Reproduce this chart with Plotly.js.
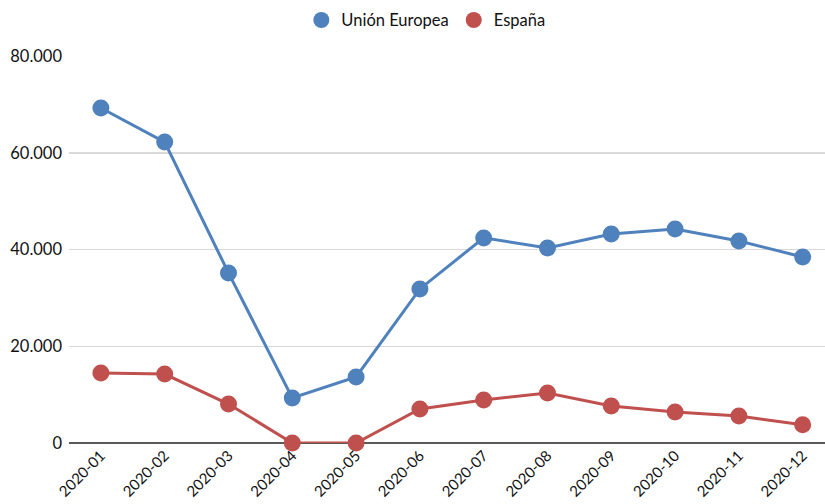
<!DOCTYPE html>
<html><head><meta charset="utf-8">
<script src="https://cdn.plot.ly/plotly-3.0.1.min.js"></script>
<style>html,body{margin:0;padding:0;background:#fff}#c{width:825px;height:504px}</style>
</head><body><div id="c"></div>
<script>
const months = ["2020-01","2020-02","2020-03","2020-04","2020-05","2020-06","2020-07","2020-08","2020-09","2020-10","2020-11","2020-12"];
const ueName = "Unión Europea";
const esName = "España";
const ueValues = [69250, 62200, 35150, 9300, 13650, 31850, 42400, 40300, 43200, 44250, 41750, 38450];
const esValues = [14450, 14250, 8050, 0, 0, 7050, 8900, 10350, 7650, 6400, 5600, 3750];
const yTicks = [0, 20000, 40000, 60000, 80000];
const blue = "#4f81bd", red = "#c0504d";

const traces = [
  {x: months, y: ueValues, name: ueName, mode: "lines+markers", showlegend: false,
   line: {color: blue, width: 3}, marker: {color: blue, size: 17}, cliponaxis: false},
  {x: months, y: esValues, name: esName, mode: "lines+markers", showlegend: false,
   line: {color: red, width: 3}, marker: {color: red, size: 17}, cliponaxis: false},
  {x: [null], y: [null], name: ueName, mode: "markers", marker: {color: blue, size: 18}},
  {x: [null], y: [null], name: esName, mode: "markers", marker: {color: red, size: 18}}
];
const layout = {
  width: 825, height: 504,
  margin: {l: 69, r: 0, t: 56, b: 61},
  paper_bgcolor: "#fff", plot_bgcolor: "#fff",
  font: {family: "Lato, 'Open Sans', sans-serif", size: 16.5, color: "#111"},
  separators: ",.",
  showlegend: true,
  legend: {orientation: "h", x: 0.472, xanchor: "center", y: 0.925, yanchor: "bottom",
           yref: "container", font: {size: 16.5}, itemwidth: 30},
  xaxis: {type: "category", range: [-0.5, 11.35], tickangle: -45, showgrid: false,
          zeroline: false, showline: false, ticks: "", tickfont: {size: 15}, automargin: false},
  yaxis: {range: [0, 80000], tickvals: yTicks, tickformat: ",d", showgrid: true,
          gridcolor: "#d9d9d9", gridwidth: 1.5, zeroline: true, zerolinecolor: "#595959",
          zerolinewidth: 1.5, showline: false, ticks: "", ticklen: 0, tickfont: {size: 16.5},
          ticklabelstandoff: 6, automargin: false}
};
Plotly.newPlot("c", traces, layout, {displayModeBar: false, staticPlot: true});
</script></body></html>
